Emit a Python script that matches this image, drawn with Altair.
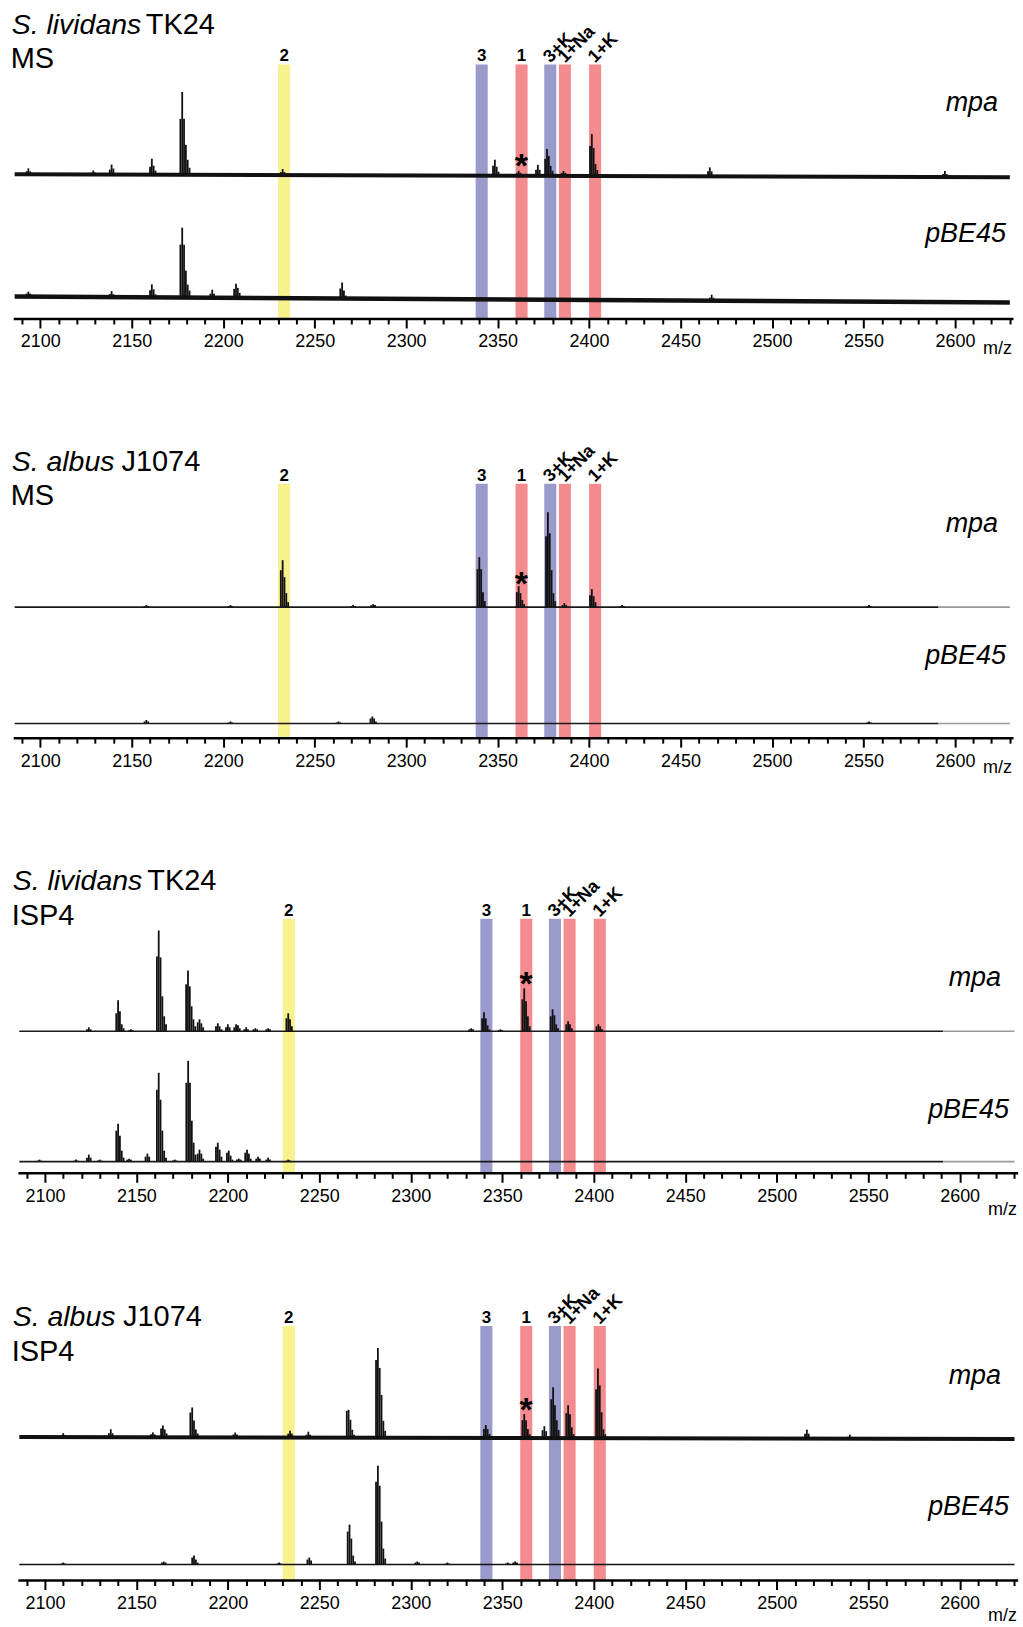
import altair as alt
import pandas as pd

FONT = "Liberation Sans"

# ---------------- axis (m/z) ----------------
MAJOR_TICKS = [2100, 2150, 2200, 2250, 2300, 2350, 2400, 2450, 2500, 2550, 2600]
MINOR_TICKS = list(range(2090, 2631, 10))

# ---------------- panel titles ----------------
STRAIN = ["S. lividans", "S. albus", "S. lividans", "S. albus"]
STRAIN_ID = ["TK24", "J1074", "TK24", "J1074"]
MEDIUM = ["MS", "MS", "ISP4", "ISP4"]
TRACES = ["mpa", "pBE45"]

# ---------------- highlighted m/z windows ----------------
BAND_TEXT = ["2", "3", "1", "3+K", "1+Na", "1+K"]
BAND_LO = [2230.0, 2338.0, 2359.8, 2375.5, 2383.5, 2400.0]
BAND_HI = [2236.6, 2344.6, 2366.4, 2382.1, 2390.1, 2406.6]
BAND_COMPOUND = ["2", "3", "1", "3", "1", "1"]
BAND_ROTATED = [False, False, False, True, True, True]
STAR_MZ = 2363

# ---------------- spectra: (first isotope m/z, stick intensities) ----------------
P1_MPA = [
    (2092.5, [3, 6, 3]), (2128, [2, 4, 2]), (2138, [5, 10, 6]), (2160, [8, 16, 9, 4]),
    (2176.6, [56, 83, 56, 30, 15, 7]), (2231.5, [3, 6, 3]), (2347.5, [10, 16, 9, 4]),
    (2360.5, [3, 5, 3]), (2371, [6, 11, 6]), (2376, [17, 27, 20, 10, 5]),
    (2385, [3, 5, 3]), (2400.5, [30, 42, 28, 12, 6]), (2465, [5, 9, 5]), (2593.5, [3, 6, 3]),
]
P1_PBE = [
    (2092.5, [3, 5, 3]), (2138, [3, 6, 3]), (2160, [7, 13, 8, 3]),
    (2176.6, [53, 70, 53, 27, 13, 7]), (2193, [4, 8, 4]), (2206, [9, 14, 10, 5]),
    (2264, [10, 16, 8, 3]), (2466, [3, 6, 3]),
]
P2_MPA = [
    (2157, [1, 2, 1]), (2203, [1, 2, 1]), (2231.5, [37, 47, 30, 14, 5]), (2270, [1, 2, 1]),
    (2281, [2, 3, 2]), (2339, [38, 50, 38, 15, 6]), (2360.5, [15, 21, 14, 7, 3]),
    (2376.5, [71, 95, 74, 37, 14, 6]), (2385.5, [2, 4, 2]), (2400.5, [12, 18, 11, 5]),
    (2417, [1, 2, 1]), (2552, [1, 2, 1]),
]
P2_PBE = [
    (2157, [2, 3.5, 2]), (2203, [1, 2, 1]), (2262, [1, 2, 1]), (2280.5, [5, 7, 5, 2]),
    (2552, [1, 2, 1]),
]
P3_MPA = [
    (2123, [2, 4, 2]), (2139, [18, 31, 20, 7, 3]), (2146, [1, 2, 1]),
    (2161.2, [75, 101, 74, 35, 15, 7]), (2177.2, [47, 61, 45, 25, 12, 5]),
    (2183.5, [9, 12, 8, 4]), (2193.5, [5, 8, 5, 2]), (2199, [4, 7, 4]), (2203.5, [4, 7, 6, 3]),
    (2209, [2, 4, 2]), (2214, [2, 3, 2]), (2221, [2, 3, 2]), (2232, [13, 18, 12, 5]),
    (2332, [2, 3, 2]), (2339, [13, 19, 13, 6, 2]), (2348, [1, 2, 1]),
    (2361, [32, 43, 30, 15, 5]), (2376.5, [15, 22, 16, 7, 3]), (2385, [7, 10, 7, 3]),
    (2401.5, [5, 7, 5, 2]),
]
P3_PBE = [
    (2096, [1, 2, 1]), (2116, [1, 2, 1]), (2123, [4, 7, 4]), (2129, [1, 2, 1]),
    (2139, [31, 38, 26, 11, 4]), (2145, [2, 3, 2]), (2155, [5, 8, 5]),
    (2161.2, [72, 89, 62, 31, 11, 4]), (2170, [1, 2, 1]), (2177.3, [79, 101, 79, 41, 19, 7]),
    (2183.5, [8, 12, 8, 3]), (2193.5, [15, 19, 12, 5]), (2199.5, [9, 11, 6, 2]),
    (2205, [2, 3, 2]), (2209.5, [9, 12, 8, 3]), (2215.5, [3, 5, 3]), (2221, [2, 4, 2]),
    (2232, [1, 2, 1]),
]
P4_MPA = [
    (2109, [2, 4, 2]), (2135, [4, 8, 4]), (2158, [3, 5, 3]), (2163.5, [9, 12, 8, 4]),
    (2179.5, [25, 30, 17, 8, 4]), (2203, [3, 5, 3]), (2233, [4, 7, 4]), (2243, [3, 6, 3]),
    (2265, [27, 28, 18, 8, 3]), (2281, [78, 90, 70, 43, 17, 7]), (2340, [9, 13, 9, 4]),
    (2361, [18, 24, 18, 9, 4]), (2372, [8, 12, 7]), (2376.8, [39, 51, 33, 18, 8]),
    (2385, [25, 33, 24, 11, 4]), (2401.3, [49, 70, 53, 26, 9, 4]), (2515.5, [5, 9, 5]),
    (2539, [2, 4, 2]),
]
P4_PBE = [
    (2109, [1, 2, 1]), (2164, [2, 3, 2]), (2180.5, [7, 9, 5, 2]), (2227, [1, 2, 1]),
    (2243.5, [5, 7, 4]), (2265.5, [33, 40, 26, 9, 3]), (2281, [83, 99, 79, 43, 16, 6]),
    (2302.5, [2, 3, 2]), (2319, [1, 2, 1]), (2352, [1, 2, 1]), (2356, [2, 3, 2]),
]
PEAKS = [(P1_MPA, P1_PBE), (P2_MPA, P2_PBE), (P3_MPA, P3_PBE), (P4_MPA, P4_PBE)]
TRACE_START, TRACE_END, TAIL_START = 2086.0, 2630.0, 2591.0

# ---------------- layout / style (pixels) ----------------
COLORS = {"2": "#f8f28e", "3": "#9a9acb", "1": "#f48b8e"}
BAND_TOP = 255.0
LAYOUT = [
    dict(h=318, x0=2078.0, x1=2636.1, base=(145.0, 22.5), drift=(-3, -6), lw=(4.0, 4.5),
         tail=(False, False), t1=(11.7, 146.0, 285.7), t2=251.3, lab_x=(1000, 1008),
         lab_y=(208, 77.3), star_y=161.3, mz=(985, 35)),
    dict(h=420, x0=2078.0, x1=2636.1, base=(131.3, 14.7), drift=(0, 0), lw=(1.6, 1.6),
         tail=(True, True), t1=(11.7, 121.7, 268.0), t2=233.7, lab_x=(1000, 1008),
         lab_y=(206.3, 74.7), star_y=162.0, mz=(985, 35)),
    dict(h=436, x0=2075.45, x1=2633.55, base=(142.3, 11.7), drift=(0, 0), lw=(1.6, 1.6),
         tail=(True, True), t1=(12.7, 147.5, 284.0), t2=249.0, lab_x=(1003, 1011),
         lab_y=(187.3, 55.7), star_y=198.0, mz=(990, 42)),
    dict(h=408, x0=2075.45, x1=2633.55, base=(143.7, 16.0), drift=(-2, 0), lw=(4.0, 1.6),
         tail=(False, False), t1=(12.7, 123.3, 255.3), t2=220.3, lab_x=(1003, 1011),
         lab_y=(197.0, 65.3), star_y=178.7, mz=(990, 41)),
]

XAXIS = alt.Axis(
    values=MINOR_TICKS,
    labelExpr="datum.value % 50 === 0 ? datum.label : ''",
    tickSize={"condition": {"test": "datum.value % 50 === 0", "value": 9}, "value": 5},
    tickWidth=2, tickColor="black", domain=False, grid=False, title=None,
    labelFont=FONT, labelFontSize=18, labelColor="black", labelPadding=5,
    labelOverlap=False, labelFlush=False, labelBound=False, format="d",
)


def label(text, x_px, y_px, size, style="normal", weight="normal", align="left"):
    return alt.Chart(pd.DataFrame({"t": [text]})).mark_text(
        font=FONT, fontSize=size, fontStyle=style, fontWeight=weight,
        align=align, baseline="alphabetic", color="black",
    ).encode(x=alt.value(x_px), y=alt.value(y_px), text="t:N")


def panel(i):
    L = LAYOUT[i]
    h = L["h"]
    xs = alt.Scale(domain=[L["x0"], L["x1"]], nice=False, zero=False)
    ys = alt.Scale(domain=[0, h], nice=False, zero=False)

    bands = pd.DataFrame({"lo": BAND_LO, "hi": BAND_HI, "text": BAND_TEXT,
                          "cmp": BAND_COMPOUND, "rot": BAND_ROTATED})
    bands["color"] = bands["cmp"].map(COLORS)
    bands["mid"] = (bands["lo"] + bands["hi"]) / 2
    bands["y0"] = 0.0
    bands["y1"] = BAND_TOP
    bands["ly"] = BAND_TOP + 3
    bands["ry"] = BAND_TOP + 1

    rect = alt.Chart(bands).mark_rect().encode(
        x=alt.X("lo:Q", scale=xs, axis=XAXIS), x2="hi:Q",
        y=alt.Y("y0:Q", scale=ys, axis=None), y2="y1:Q",
        color=alt.Color("color:N", scale=None),
    )
    blab = alt.Chart(bands[~bands["rot"]]).mark_text(
        font=FONT, fontSize=17, fontWeight="bold", align="center", baseline="alphabetic", color="black",
    ).encode(x=alt.X("mid:Q", scale=xs, axis=XAXIS), y=alt.Y("ly:Q", scale=ys, axis=None), text="text:N")
    rlab = alt.Chart(bands[bands["rot"]]).mark_text(
        font=FONT, fontSize=18, fontWeight="bold", align="left", baseline="alphabetic",
        angle=315, color="black",
    ).encode(x=alt.X("mid:Q", scale=xs, axis=XAXIS), y=alt.Y("ry:Q", scale=ys, axis=None), text="text:N")

    # baselines and peak sticks
    base_rows, stick_rows = [], []
    for k, name in enumerate(TRACES):
        b, d, w = L["base"][k], L["drift"][k], L["lw"][k]
        span = TRACE_END - TRACE_START
        if L["tail"][k]:
            yt = b + d * (TAIL_START - TRACE_START) / span
            base_rows += [dict(mz=TRACE_START, y=b, seg=f"{name}a", c="#1a1a1a", w=w),
                          dict(mz=TAIL_START, y=yt, seg=f"{name}a", c="#1a1a1a", w=w),
                          dict(mz=TAIL_START, y=yt, seg=f"{name}b", c="#9a9a9a", w=w),
                          dict(mz=TRACE_END, y=b + d, seg=f"{name}b", c="#9a9a9a", w=w)]
        else:
            base_rows += [dict(mz=TRACE_START, y=b, seg=name, c="#111111", w=w),
                          dict(mz=TRACE_END, y=b + d, seg=name, c="#111111", w=w)]
        for start, hs in PEAKS[i][k]:
            for j, hv in enumerate(hs):
                mz = start + j
                foot = b + d * (mz - TRACE_START) / span
                stick_rows.append(dict(mz=mz, y0=foot, y1=foot + hv))
    base_df = pd.DataFrame(base_rows)
    stick_df = pd.DataFrame(stick_rows)

    baseline = alt.Chart(base_df).mark_line(strokeCap="butt").encode(
        x=alt.X("mz:Q", scale=xs, axis=XAXIS), y=alt.Y("y:Q", scale=ys, axis=None),
        detail="seg:N", color=alt.Color("c:N", scale=None),
        strokeWidth=alt.StrokeWidth("w:Q", scale=None),
    )
    sticks = alt.Chart(stick_df).mark_rule(strokeWidth=1.8, color="#111111").encode(
        x=alt.X("mz:Q", scale=xs, axis=XAXIS), y=alt.Y("y0:Q", scale=ys, axis=None), y2="y1:Q",
    )

    axis_line = alt.Chart(pd.DataFrame({"a": [2085.5], "b": [2632.0], "y": [0.0]})).mark_rule(
        strokeWidth=2.5, color="black"
    ).encode(x=alt.X("a:Q", scale=xs, axis=XAXIS), x2="b:Q", y=alt.Y("y:Q", scale=ys, axis=None))

    star = alt.Chart(pd.DataFrame({"mz": [STAR_MZ], "t": ["*"]})).mark_text(
        font=FONT, fontSize=34, fontWeight="bold", align="center", baseline="alphabetic", color="black",
    ).encode(x=alt.X("mz:Q", scale=xs, axis=XAXIS), y=alt.value(h - (L["star_y"] - 19)), text="t:N")

    x1, x2, ty1 = L["t1"]
    texts = [
        label(STRAIN[i], x1, h - ty1, 28.5, style="italic"),
        label(STRAIN_ID[i], x2, h - ty1, 29),
        label(MEDIUM[i], x1 - 1, h - L["t2"], 29),
        label(TRACES[0], L["lab_x"][0], h - L["lab_y"][0], 27, style="italic", align="right"),
        label(TRACES[1], L["lab_x"][1], h - L["lab_y"][1], 27, style="italic", align="right"),
        label("m/z", L["mz"][0], h + L["mz"][1], 18),
    ]

    return alt.layer(rect, baseline, sticks, axis_line, blab, rlab, star, *texts).properties(
        width=1023, height=h
    )


chart = alt.vconcat(*[panel(i) for i in range(4)], spacing=0, bounds="flush").properties(
    padding=0, background="white"
).configure_view(stroke=None)

chart.save("out.html", embed_options={"renderer": "svg", "actions": False})
